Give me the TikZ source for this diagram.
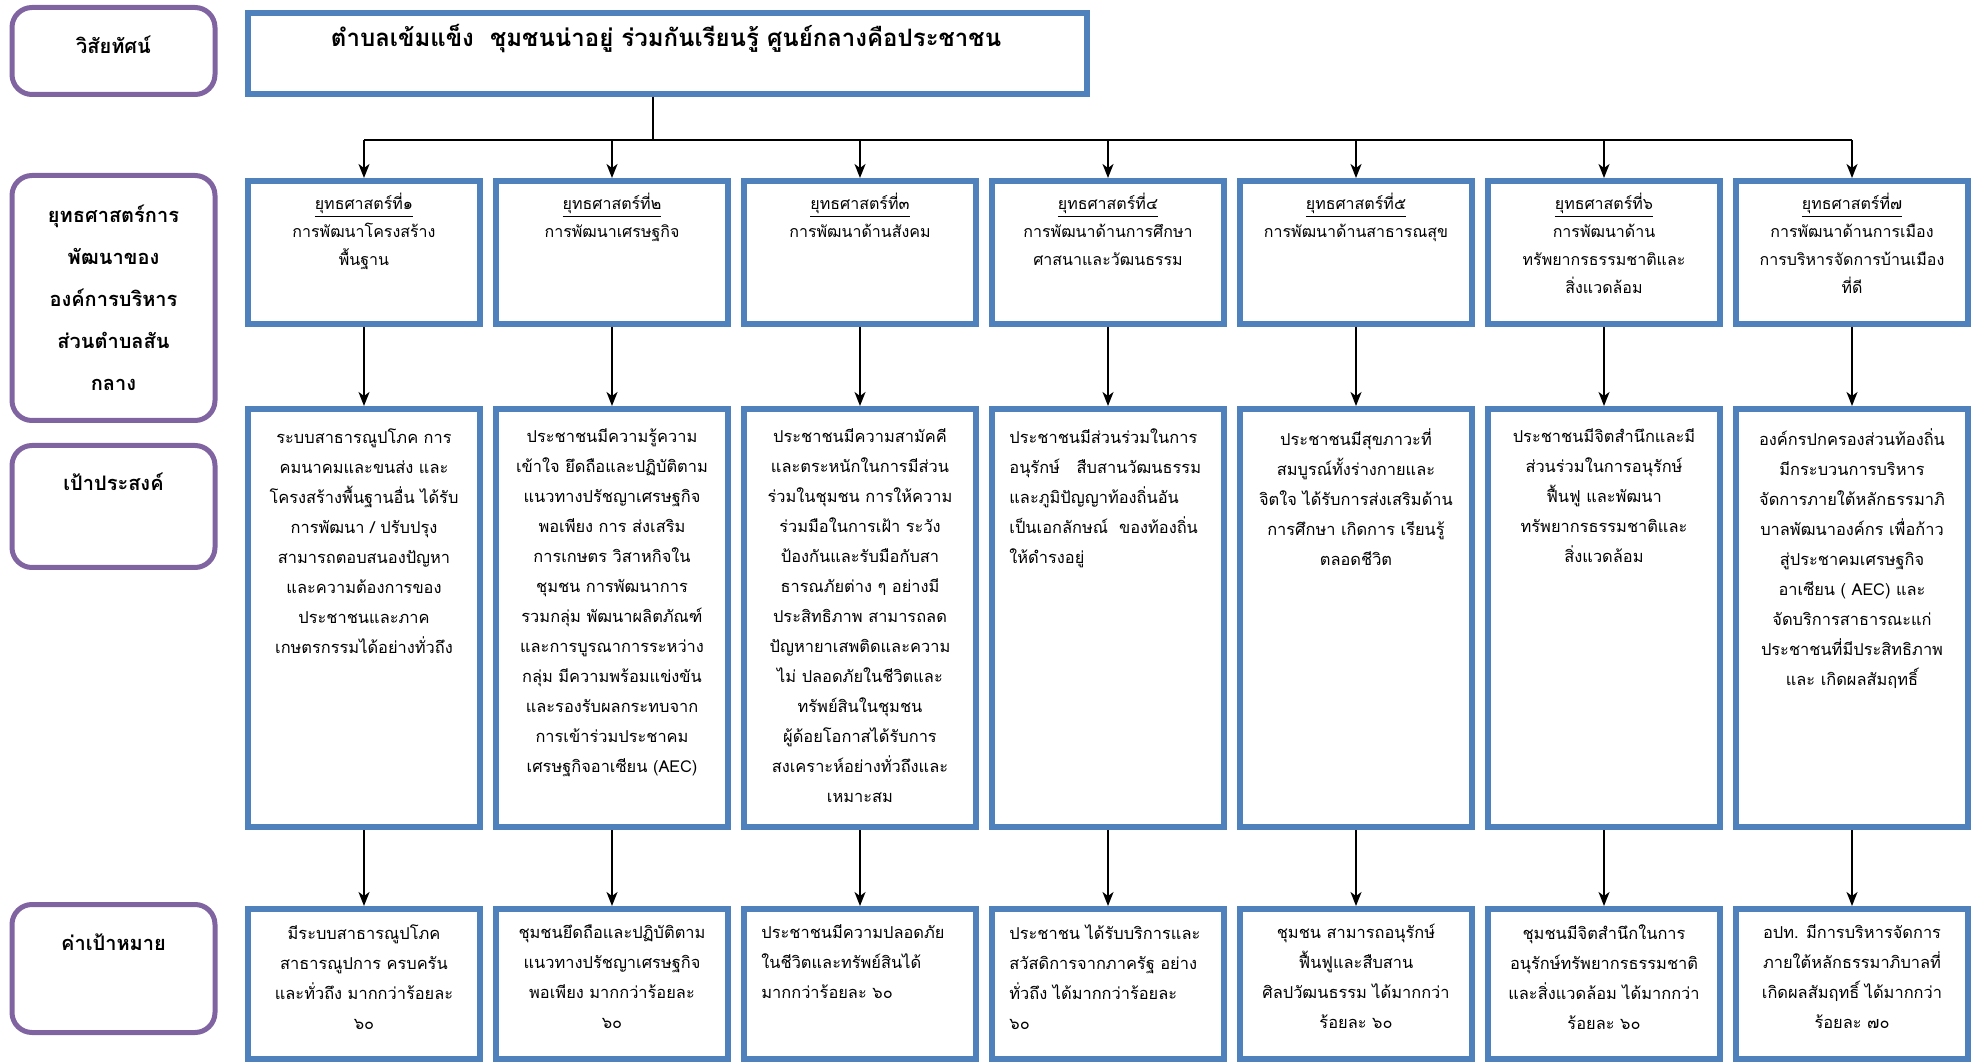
\documentclass[tikz,border=0pt]{standalone}
\usepackage{fontspec}
\setmainfont[Script=Thai]{Loma}
\usetikzlibrary{arrows.meta, positioning}
\definecolor{officeblue}{rgb}{0.310, 0.506, 0.741}
\definecolor{officepurple}{rgb}{0.502, 0.392, 0.635}

\begin{document}
\begin{tikzpicture}[
				x=0.5pt, y=-0.5pt,
				texts/.style = {text=black, inner sep=0pt},
				sidebox/.style = {draw=officepurple, line width=2.5pt, rounded corners=10pt, minimum width=101.5pt, inner sep=0pt},
				sidetext/.style = {texts, align=center, font=\bfseries\fontsize{10}{21}\selectfont},
				planbox/.style = {draw=officeblue, line width=3pt, minimum width=116pt, inner sep=0pt},
				stratnode/.style = {planbox, minimum height=71.5pt},
				goalnode/.style = {planbox, minimum height=209pt},
				targetnode/.style = {planbox, minimum height=75pt},
				strattext/.style = {texts, align=center, font=\fontsize{8}{14}\selectfont},
				goaltext/.style = {texts, align=center, font=\fontsize{8.2}{15}\selectfont},
				lefttext/.style = {goaltext, align=left},
				link/.style = {draw=black, line width=0.8pt, -{Stealth[length=7pt, width=5.5pt, inset=2pt]}}
				]
				\useasboundingbox (0,0) rectangle (1975,1063);
				
				% row titles
				\node[sidebox, minimum height=43.5pt] (visionbox) at (113.5,51) {};
				\node[sidetext] (visionlabel) at (113.5,45) {วิสัยทัศน์};
				\node[sidebox, minimum height=122.5pt] (stratbox) at (113.5,298) {};
				\node[sidetext] (stratlabel) at (stratbox) {ยุทธศาสตร์การ\\พัฒนาของ\\องค์การบริหาร\\ส่วนตำบลสัน\\กลาง};
				\node[sidebox, minimum height=61pt] (goalbox) at (113.5,506.5) {};
				\node[sidetext] (goallabel) at (113.5,482) {เป้าประสงค์};
				\node[sidebox, minimum height=64pt] (targetbox) at (113.5,968.5) {};
				\node[sidetext] (targetlabel) at (113.5,942) {ค่าเป้าหมาย};
				
				% vision
				\node[planbox, minimum width=419.5pt, minimum height=40.5pt] (vision) at (667.5,53.5) {};
				\node[texts, font=\bfseries\fontsize{12}{15}\selectfont] (visiontext) at (666,39) {ตำบลเข้มแข็ง\ \ ชุมชนน่าอยู่ ร่วมกันเรียนรู้ ศูนย์กลางคือประชาชน};
				
				% strategies
				\node[stratnode] (s1) at (364,252.5) {};
				\node[strattext, below=7.5pt of s1.north] (s1t) {\underline{ยุทธศาสตร์ที่๑}\\การพัฒนาโครงสร้าง\\พื้นฐาน};
				\node[stratnode] (s2) at (612,252.5) {};
				\node[strattext, below=7.5pt of s2.north] (s2t) {\underline{ยุทธศาสตร์ที่๒}\\การพัฒนาเศรษฐกิจ};
				\node[stratnode] (s3) at (860,252.5) {};
				\node[strattext, below=7.5pt of s3.north] (s3t) {\underline{ยุทธศาสตร์ที่๓}\\การพัฒนาด้านสังคม};
				\node[stratnode] (s4) at (1108,252.5) {};
				\node[strattext, below=7.5pt of s4.north] (s4t) {\underline{ยุทธศาสตร์ที่๔}\\การพัฒนาด้านการศึกษา\\ศาสนาและวัฒนธรรม};
				\node[stratnode] (s5) at (1356,252.5) {};
				\node[strattext, below=7.5pt of s5.north] (s5t) {\underline{ยุทธศาสตร์ที่๕}\\การพัฒนาด้านสาธารณสุข};
				\node[stratnode] (s6) at (1604,252.5) {};
				\node[strattext, below=7.5pt of s6.north] (s6t) {\underline{ยุทธศาสตร์ที่๖}\\การพัฒนาด้าน\\ทรัพยากรธรรมชาติและ\\สิ่งแวดล้อม};
				\node[stratnode] (s7) at (1852,252.5) {};
				\node[strattext, below=7.5pt of s7.north] (s7t) {\underline{ยุทธศาสตร์ที่๗}\\การพัฒนาด้านการเมือง\\การบริหารจัดการบ้านเมือง\\ที่ดี};
				
				% goals
				\node[goalnode] (g1) at (364,618) {};
				\node[goaltext, below=11pt of g1.north] (g1t) {ระบบสาธารณูปโภค การ\\คมนาคมและขนส่ง และ\\โครงสร้างพื้นฐานอื่น ได้รับ\\การพัฒนา / ปรับปรุง\\สามารถตอบสนองปัญหา\\และความต้องการของ\\ประชาชนและภาค\\เกษตรกรรมได้อย่างทั่วถึง};
				\node[goalnode] (g2) at (612,618) {};
				\node[goaltext, below=11pt of g2.north] (g2t) {ประชาชนมีความรู้ความ\\เข้าใจ ยึดถือและปฏิบัติตาม\\แนวทางปรัชญาเศรษฐกิจ\\พอเพียง การ ส่งเสริม\\การเกษตร วิสาหกิจใน\\ชุมชน การพัฒนาการ\\รวมกลุ่ม พัฒนาผลิตภัณฑ์\\และการบูรณาการระหว่าง\\กลุ่ม มีความพร้อมแข่งขัน\\และรองรับผลกระทบจาก\\การเข้าร่วมประชาคม\\เศรษฐกิจอาเซียน (AEC)};
				\node[goalnode] (g3) at (860,618) {};
				\node[goaltext, below=11pt of g3.north] (g3t) {ประชาชนมีความสามัคคี\\และตระหนักในการมีส่วน\\ร่วมในชุมชน การให้ความ\\ร่วมมือในการเฝ้า ระวัง\\ป้องกันและรับมือกับสา\\ธารณภัยต่าง ๆ อย่างมี\\ประสิทธิภาพ สามารถลด\\ปัญหายาเสพติดและความ\\ไม่ ปลอดภัยในชีวิตและ\\ทรัพย์สินในชุมชน\\ผู้ด้อยโอกาสได้รับการ\\สงเคราะห์อย่างทั่วถึงและ\\เหมาะสม};
				\node[goalnode] (g4) at (1108,618) {};
				\node[lefttext, below right=11pt and 10pt of g4.north west] (g4t) {ประชาชนมีส่วนร่วมในการ\\อนุรักษ์\ \ \ สืบสานวัฒนธรรม\\และภูมิปัญญาท้องถิ่นอัน\\เป็นเอกลักษณ์\ \ ของท้องถิ่น\\ให้ดำรงอยู่};
				\node[goalnode] (g5) at (1356,618) {};
				\node[goaltext, below=11pt of g5.north] (g5t) {ประชาชนมีสุขภาวะที่\\สมบูรณ์ทั้งร่างกายและ\\จิตใจ ได้รับการส่งเสริมด้าน\\การศึกษา เกิดการ เรียนรู้\\ตลอดชีวิต};
				\node[goalnode] (g6) at (1604,618) {};
				\node[goaltext, below=11pt of g6.north] (g6t) {ประชาชนมีจิตสำนึกและมี\\ส่วนร่วมในการอนุรักษ์\\ฟื้นฟู และพัฒนา\\ทรัพยากรธรรมชาติและ\\สิ่งแวดล้อม};
				\node[goalnode] (g7) at (1852,618) {};
				\node[goaltext, below=11pt of g7.north] (g7t) {องค์กรปกครองส่วนท้องถิ่น\\มีกระบวนการบริหาร\\จัดการภายใต้หลักธรรมาภิ\\บาลพัฒนาองค์กร เพื่อก้าว\\สู่ประชาคมเศรษฐกิจ\\อาเซียน ( AEC) และ\\จัดบริการสาธารณะแก่\\ประชาชนที่มีประสิทธิภาพ\\และ เกิดผลสัมฤทธิ์};
				
				% targets
				\node[targetnode] (t1) at (364,984) {};
				\node[goaltext, below=9pt of t1.north] (t1t) {มีระบบสาธารณูปโภค\\สาธารณูปการ ครบครัน\\และทั่วถึง มากกว่าร้อยละ\\๖๐};
				\node[targetnode] (t2) at (612,984) {};
				\node[goaltext, below=9pt of t2.north] (t2t) {ชุมชนยึดถือและปฏิบัติตาม\\แนวทางปรัชญาเศรษฐกิจ\\พอเพียง มากกว่าร้อยละ\\๖๐};
				\node[targetnode] (t3) at (860,984) {};
				\node[lefttext, below right=9pt and 10pt of t3.north west] (t3t) {ประชาชนมีความปลอดภัย\\ในชีวิตและทรัพย์สินได้\\มากกว่าร้อยละ ๖๐};
				\node[targetnode] (t4) at (1108,984) {};
				\node[lefttext, below right=9pt and 10pt of t4.north west] (t4t) {ประชาชน ได้รับบริการและ\\สวัสดิการจากภาครัฐ อย่าง\\ทั่วถึง ได้มากกว่าร้อยละ\\๖๐};
				\node[targetnode] (t5) at (1356,984) {};
				\node[goaltext, below=9pt of t5.north] (t5t) {ชุมชน สามารถอนุรักษ์\\ฟื้นฟูและสืบสาน\\ศิลปวัฒนธรรม ได้มากกว่า\\ร้อยละ ๖๐};
				\node[targetnode] (t6) at (1604,984) {};
				\node[goaltext, below=9pt of t6.north] (t6t) {ชุมชนมีจิตสำนึกในการ\\อนุรักษ์ทรัพยากรธรรมชาติ\\และสิ่งแวดล้อม ได้มากกว่า\\ร้อยละ ๖๐};
				\node[targetnode] (t7) at (1852,984) {};
				\node[goaltext, below=9pt of t7.north] (t7t) {อปท. มีการบริหารจัดการ\\ภายใต้หลักธรรมาภิบาลที่\\เกิดผลสัมฤทธิ์ ได้มากกว่า\\ร้อยละ ๗๐};
				
				% connectors
				\coordinate (bus) at (653,140);
				\draw[line width=0.8pt] ([xshift=-7.25pt]vision.south) -- (bus);
				\draw[line width=1.2pt] (s1.north |- bus) -- (s7.north |- bus);
				\draw[link] (s1.north |- bus) -- (s1.north);
				\draw[link] (s2.north |- bus) -- (s2.north);
				\draw[link] (s3.north |- bus) -- (s3.north);
				\draw[link] (s4.north |- bus) -- (s4.north);
				\draw[link] (s5.north |- bus) -- (s5.north);
				\draw[link] (s6.north |- bus) -- (s6.north);
				\draw[link] (s7.north |- bus) -- (s7.north);
				\draw[link] (s1) -- (g1.north);
				\draw[link] (s2) -- (g2.north);
				\draw[link] (s3) -- (g3.north);
				\draw[link] (s4) -- (g4.north);
				\draw[link] (s5) -- (g5.north);
				\draw[link] (s6) -- (g6.north);
				\draw[link] (s7) -- (g7.north);
				\draw[link] (g1.south) -- (t1.north);
				\draw[link] (g2.south) -- (t2.north);
				\draw[link] (g3.south) -- (t3.north);
				\draw[link] (g4.south) -- (t4.north);
				\draw[link] (g5.south) -- (t5.north);
				\draw[link] (g6.south) -- (t6.north);
				\draw[link] (g7.south) -- (t7.north);
				\end{tikzpicture}
\end{document}
